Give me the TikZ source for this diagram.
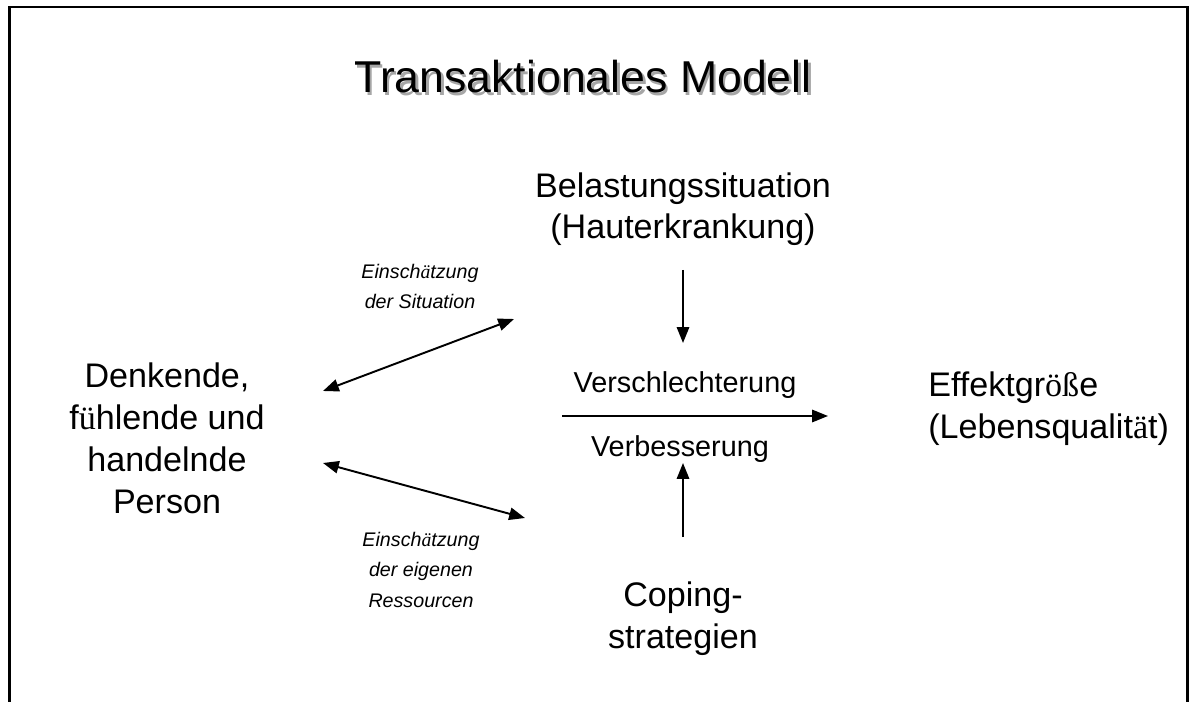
\documentclass[tikz,border=0pt]{standalone}
\usepackage{fontspec}
\setmainfont{Liberation Sans}
\newfontfamily\umlfont{Liberation Serif}
\usetikzlibrary{arrows.meta}
\newcommand{\uml}[1]{{\umlfont #1}}
\tikzset{
  pfeil/.style={line width=1.1pt,-{Triangle[length=9pt,width=7pt]}},
  doppelpfeil/.style={line width=1.1pt,{Triangle[length=9pt,width=7pt]}-{Triangle[length=9pt,width=7pt]}},
  gross/.style={inner sep=0pt,align=center,font=\fontsize{19.4}{23.9}\selectfont},
  mittel/.style={inner sep=0pt,font=\fontsize{16.4}{20}\selectfont},
  klein/.style={inner sep=0pt,align=center,font=\fontsize{11.2}{17.1}\selectfont\itshape},
}
\begin{document}
\begin{tikzpicture}[x=0.02cm,y=-0.02cm]
            \useasboundingbox (0,0) rectangle (1189,702);
            \draw[line width=1.4pt] (9.5,702) -- (9.5,7) -- (1187.5,7) -- (1187.5,702);
            % title with shadow
            \node[inner sep=0pt,anchor=base,text=black!35,font=\fontsize{25.4}{30}\selectfont] (titleshadow) at (585.5,95.5) {Transaktionales Modell};
            \node[inner sep=0pt,anchor=base,font=\fontsize{25.4}{30}\selectfont] (title) at (583,93) {Transaktionales Modell};
            % blocks (base = last line)
            \node[gross,anchor=base] (belastung) at (683,239) {Belastungssituation\\(Hauterkrankung)};
            \node[gross,anchor=base] (person) at (167,513) {Denkende,\\f\uml{ü}hlende und\\handelnde\\Person};
            \node[gross,anchor=base] (coping) at (683,648) {Coping-\\strategien};
            \node[gross,align=left,anchor=base west] (effekt) at (928,438) {Effektgr\uml{öß}e\\(Lebensqualit\uml{ä}t)};
            \node[mittel,anchor=base] (verschl) at (685,392) {Verschlechterung};
            \node[mittel,anchor=base] (verbess) at (680,456) {Verbesserung};
            \node[klein,anchor=base] (einsch1) at (420,309) {Einsch\uml{ä}tzung\\der Situation};
            \node[klein,anchor=base] (einsch2) at (421,607) {Einsch\uml{ä}tzung\\der eigenen\\Ressourcen};
            % arrow ends
            \coordinate (p1) at (323,391);
            \coordinate (s1) at (514,319);
            \coordinate (p2) at (323,463);
            \coordinate (s2) at (525,518);
            \coordinate (b1) at (683,270);
            \coordinate (b2) at (683,343);
            \coordinate (c1) at (683,537);
            \coordinate (c2) at (683,463);
            \coordinate (e1) at (562,416);
            \coordinate (e2) at (828,416);
            \draw[doppelpfeil] (p1) -- (s1);
            \draw[doppelpfeil] (p2) -- (s2);
            \draw[pfeil] (b1) -- (b2);
            \draw[pfeil] (c1) -- (c2);
            \draw[pfeil] (e1) -- (e2);
\end{tikzpicture}
\end{document}
